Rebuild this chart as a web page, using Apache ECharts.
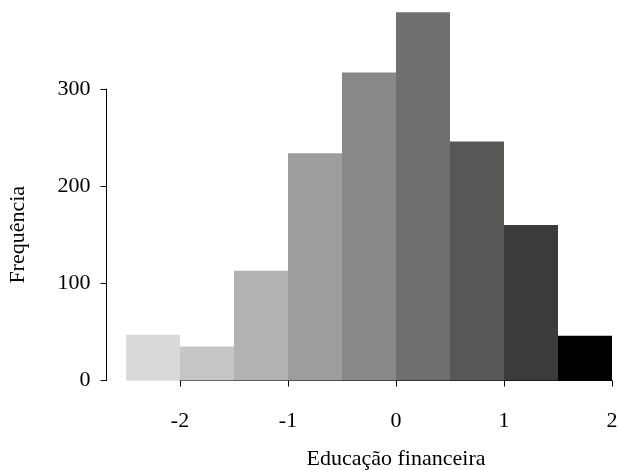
<!DOCTYPE html>
<html>
<head>
<meta charset="utf-8">
<script src="https://cdn.jsdelivr.net/npm/echarts@6/dist/echarts.min.js"></script>
<style>
  html, body { margin: 0; padding: 0; background: #ffffff; }
  #chart { width: 618px; height: 470px; }
</style>
</head>
<body>
<div id="chart"></div>
<script>
// Histogram bins (width 0.5, from -2.5 to 2.0)
const binLabels = ['-2.5', '-2.0', '-1.5', '-1.0', '-0.5', '0.0', '0.5', '1.0', '1.5'];
const counts = [47, 35, 113, 234, 317, 379, 246, 160, 46];
const binColors = ['#d9d9d9', '#c6c6c6', '#b2b2b2', '#9d9d9c', '#888888', '#6f6f6f', '#575755', '#3b3b3a', '#000000'];
const xTicks = [-2, -1, 0, 1, 2];
const yTicks = [0, 100, 200, 300];

const serif = 'Liberation Serif';
const chart = echarts.init(document.getElementById('chart'), null, { renderer: 'canvas' });

chart.setOption({
  animation: false,
  backgroundColor: '#ffffff',
  grid: [
    // bars: -2.5 .. 2.0, whole-pixel bin width so neighbouring bars meet cleanly
    { left: 126, right: 6, top: 89, bottom: 89.5, containLabel: false, outerBoundsMode: 'none' },
    // x axis: -2 .. 2
    { left: 180, right: 6, top: 89, bottom: 89.5, containLabel: false, outerBoundsMode: 'none' }
  ],
  xAxis: [
    {
      gridIndex: 0, type: 'category', data: binLabels, boundaryGap: true,
      show: false
    },
    {
      gridIndex: 1, type: 'value', min: xTicks[0], max: xTicks[xTicks.length - 1], interval: 1,
      offset: 16.5,
      axisLine: { show: true, lineStyle: { color: '#000', width: 1 } },
      axisTick: { show: true, length: 6, lineStyle: { color: '#000' } },
      axisLabel: { color: '#000', fontFamily: serif, fontSize: 22, margin: 13 },
      splitLine: { show: false },
      name: 'Educação financeira', nameLocation: 'middle', nameGap: 51,
      nameTextStyle: { color: '#000', fontFamily: serif, fontSize: 22 }
    }
  ],
  yAxis: [
    {
      gridIndex: 0, type: 'value', min: yTicks[0], max: yTicks[yTicks.length - 1], interval: 100,
      offset: 19.5,
      axisLine: { show: true, lineStyle: { color: '#000', width: 1 } },
      axisTick: { show: true, length: 6, lineStyle: { color: '#000' } },
      axisLabel: { color: '#000', fontFamily: serif, fontSize: 22, margin: 16 },
      splitLine: { show: false },
      name: 'Frequência', nameLocation: 'middle', nameGap: 77, nameRotate: 90,
      nameTextStyle: { color: '#000', fontFamily: serif, fontSize: 22 }
    },
    { gridIndex: 1, type: 'value', min: 0, max: 300, show: false }
  ],
  series: [
    {
      type: 'bar',
      xAxisIndex: 0, yAxisIndex: 0,
      barWidth: '100%',
      barCategoryGap: 0,
      clip: false,
      data: counts.map((v, i) => ({ value: v, itemStyle: { color: binColors[i] } }))
    }
  ]
});
</script>
</body>
</html>
